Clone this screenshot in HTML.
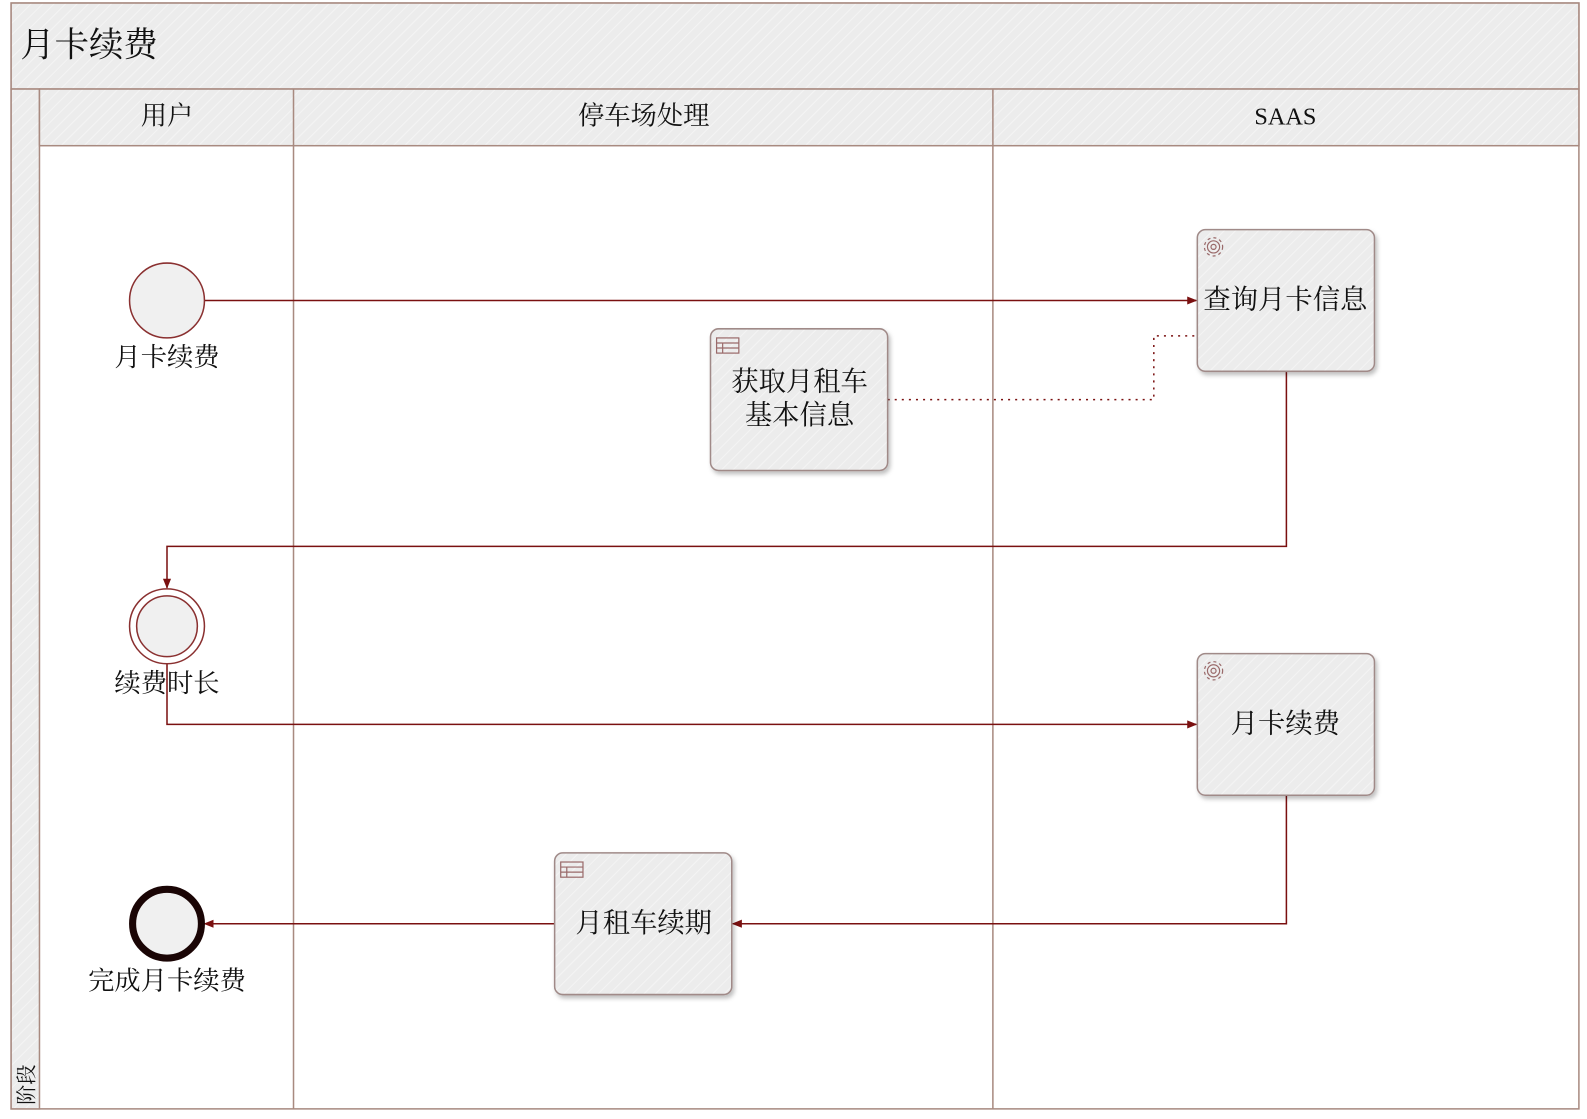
<!DOCTYPE html>
<html><head><meta charset="utf-8"><style>
html,body{margin:0;padding:0;background:#fff;overflow:hidden;width:1587px;height:1119px}
svg{display:block}
text{font-family:"Liberation Serif","Noto Serif CJK SC",serif;fill:#111}
</style></head><body>
<svg width="1587" height="1119" viewBox="0 0 1568 1106" preserveAspectRatio="none" xmlns="http://www.w3.org/2000/svg">
<defs>
<pattern id="h" width="8" height="8" patternUnits="userSpaceOnUse" patternTransform="rotate(45)">
<rect width="8" height="8" fill="#ececec"/><line x1="0" y1="0" x2="0" y2="8" stroke="#f4f4f4" stroke-width="2"/></pattern>
<marker id="a" markerWidth="10" markerHeight="10" refX="9" refY="5" orient="auto" markerUnits="userSpaceOnUse"><path d="M0,1 L10,5 L0,9 z" fill="#7a1010"/></marker>
<filter id="s" x="-10%" y="-10%" width="130%" height="130%"><feDropShadow dx="2" dy="3" stdDeviation="2" flood-color="#000" flood-opacity="0.25"/></filter>
</defs>
<rect x="11" y="3" width="1549" height="1093" fill="#fff" stroke="#a88a80" stroke-width="1.5"/>
<rect x="11" y="3" width="1549" height="85" fill="url(#h)" stroke="#a88a80" stroke-width="1.5"/>
<text x="20" y="56" font-size="34">月卡续费</text>
<rect x="11" y="88" width="28" height="1008" fill="url(#h)" stroke="#a88a80" stroke-width="1.5"/>
<text transform="translate(33,1092) rotate(-90)" font-size="20">阶段</text>
<rect x="39" y="88" width="1521" height="56" fill="url(#h)" stroke="#a88a80" stroke-width="1.5"/>
<line x1="290" y1="88" x2="290" y2="1096" stroke="#a88a80" stroke-width="1.5"/>
<line x1="981" y1="88" x2="981" y2="1096" stroke="#a88a80" stroke-width="1.5"/>
<text x="165" y="123" font-size="26" text-anchor="middle">用户</text>
<text x="636" y="123" font-size="26" text-anchor="middle">停车场处理</text>
<text x="1270" y="123" font-size="24" text-anchor="middle">SAAS</text>

<g fill="none" stroke="#7a1010" stroke-width="1.5">
<path d="M202,297 H1182" marker-end="url(#a)"/>
<path d="M877,395 H1140 V332 H1183" stroke-dasharray="2,5"/>
<path d="M1271,367 V540 H165 V581" marker-end="url(#a)"/>
<path d="M165,656 V716 H1182" marker-end="url(#a)"/>
<path d="M1271,786 V913 H724" marker-end="url(#a)"/>
<path d="M548,913 H202" marker-end="url(#a)"/>
</g>

<circle cx="165" cy="297" r="37" fill="#f0f0f0" stroke="#8a3030" stroke-width="1.5"/>
<text x="165" y="362" font-size="26" text-anchor="middle">月卡续费</text>
<circle cx="165" cy="619" r="37" fill="#fff" stroke="#8a3030" stroke-width="1.5"/>
<circle cx="165" cy="619" r="30" fill="#f0f0f0" stroke="#8a3030" stroke-width="1.5"/>
<text x="165" y="684" font-size="26" text-anchor="middle">续费时长</text>
<circle cx="165" cy="913" r="34" fill="#f0f0f0" stroke="#1a0505" stroke-width="7"/>
<text x="165" y="978" font-size="26" text-anchor="middle">完成月卡续费</text>

<g filter="url(#s)" stroke="#a08a88" stroke-width="1.5" fill="url(#h)">
<rect x="1183" y="227" width="175" height="140" rx="8"/>
<rect x="702" y="325" width="175" height="140" rx="8"/>
<rect x="1183" y="646" width="175" height="140" rx="8"/>
<rect x="548" y="843" width="175" height="140" rx="8"/>
</g>
<g fill="none" stroke="#9a6a6a" stroke-width="1.2">
<circle cx="1199" cy="244" r="6"/><circle cx="1199" cy="244" r="2.5"/><circle cx="1199" cy="244" r="9" stroke-dasharray="3,3"/>
<circle cx="1199" cy="663" r="6"/><circle cx="1199" cy="663" r="2.5"/><circle cx="1199" cy="663" r="9" stroke-dasharray="3,3"/>
<rect x="708" y="334" width="22" height="15"/><line x1="708" y1="339" x2="730" y2="339"/><line x1="708" y1="344" x2="730" y2="344"/><line x1="714" y1="339" x2="714" y2="349"/>
<rect x="554" y="852" width="22" height="15"/><line x1="554" y1="857" x2="576" y2="857"/><line x1="554" y1="862" x2="576" y2="862"/><line x1="560" y1="857" x2="560" y2="867"/>
</g>
<text x="1270" y="305" font-size="27" text-anchor="middle">查询月卡信息</text>
<text x="790" y="386" font-size="27" text-anchor="middle">获取月租车</text>
<text x="790" y="419" font-size="27" text-anchor="middle">基本信息</text>
<text x="1270" y="724" font-size="27" text-anchor="middle">月卡续费</text>
<text x="636" y="921" font-size="27" text-anchor="middle">月租车续期</text>
</svg>
</body></html>
